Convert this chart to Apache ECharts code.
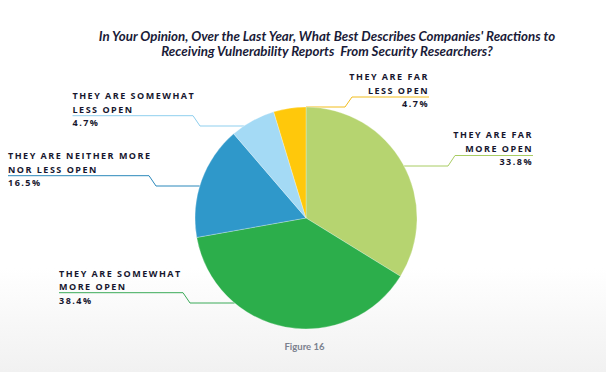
<!DOCTYPE html>
<html>
<head>
<meta charset="utf-8">
<script src="https://cdn.jsdelivr.net/npm/echarts@6/dist/echarts.min.js"></script>
<style>
  html, body { margin: 0; padding: 0; background: #ffffff; }
  #chart { width: 606px; height: 372px; }
  #chart svg text[style*="Open Sans"] { letter-spacing: 1.5px; }
</style>
</head>
<body>
<div id="chart"></div>
<script>
// ---- data ----
const categories = [
  'THEY ARE FAR\nMORE OPEN',
  'THEY ARE SOMEWHAT\nMORE OPEN',
  'THEY ARE NEITHER MORE\nNOR LESS OPEN',
  'THEY ARE SOMEWHAT\nLESS OPEN',
  'THEY ARE FAR\nLESS OPEN'
];
// slice sizes as drawn in the picture
const values = [33.8, 38.4, 16.5, 6.6, 4.7];
// percentage texts as printed on the labels
const percentLabels = ['33.8%', '38.4%', '16.5%', '4.7%', '4.7%'];
const titleLines = [
  "In Your Opinion, Over the Last Year, What Best Describes Companies' Reactions to",
  'Receiving Vulnerability Reports  From Security Researchers?'
];
const figureCaption = 'Figure 16';

// ---- styles / layout ----
const sliceColors = ['#b6d470', '#2cae4b', '#2f98ca', '#a4daf5', '#ffc80b'];
const lineColors  = ['#a8cc62', '#3aaa58', '#2b88bb', '#8fcfee', '#f2bd1c'];
const CX = 306, CY = 218, R = 111;
// label placement: anchor x, top y, alignment, underline y, underline inner end x, start y of leader
const labelPlaces = [
  { x: 533, top: 128,   align: 'right', uy: 155.5, ux: 455, sy: 166 },
  { x: 59,  top: 266.5, align: 'left',  uy: 292.7, ux: 183, sy: 303 },
  { x: 8,   top: 149,   align: 'left',  uy: 175.7, ux: 149, sy: 186 },
  { x: 72.5,top: 89,    align: 'left',  uy: 115.7, ux: 193, sy: 126 },
  { x: 429, top: 70,    align: 'right', uy: 97,    ux: 352, sy: 107 }
];
const DIAG = 7;

function edgeX(y, side) {
  const d = Math.sqrt(Math.max(0, R * R - (y - CY) * (y - CY)));
  return side === 'right' ? CX + d : CX - d;
}

const chart = echarts.init(document.getElementById('chart'), null, { renderer: 'svg' });

const seriesData = categories.map((c, i) => ({
  name: c,
  value: values[i],
  itemStyle: { color: sliceColors[i] },
  labelLine: { lineStyle: { color: lineColors[i] } }
}));

chart.setOption({
  animation: false,
  backgroundColor: '#ffffff',
  title: {
    text: titleLines.join('\n'),
    left: 322,
    top: 23,
    textAlign: 'center',
    textStyle: {
      fontFamily: 'Lato',
      fontStyle: 'italic',
      fontWeight: 'bold',
      fontSize: 13.3,
      lineHeight: 15,
      color: '#1a1b38'
    }
  },
  graphic: [
    {
      type: 'rect',
      z: -10,
      silent: true,
      shape: { x: 0, y: 0, width: 606, height: 372 },
      style: {
        fill: new echarts.graphic.LinearGradient(0, 0, 0, 1, [
          { offset: 0, color: '#ffffff' },
          { offset: 0.72, color: '#ffffff' },
          { offset: 1, color: '#f1f1f1' }
        ])
      }
    },
    {
      type: 'text',
      left: 284.5,
      top: 341,
      style: {
        text: figureCaption,
        font: 'bold 9.5px Lato',
        fill: '#7b818e'
      }
    }
  ],
  series: [{
    type: 'pie',
    center: [CX, CY],
    radius: R,
    startAngle: 90,
    clockwise: true,
    avoidLabelOverlap: false,
    emphasis: { disabled: true },
    itemStyle: { borderColor: 'rgba(255,255,255,0.45)', borderWidth: 0.6 },
    label: {
      show: true,
      position: 'outer',
      alignTo: 'none',
      formatter: function (p) {
        return '{n|' + p.name + '}\n{p|' + percentLabels[p.dataIndex] + '}';
      },
      rich: {
        n: { fontFamily: 'Open Sans', fontWeight: 'bold', fontSize: 9, lineHeight: 13.5, color: '#16162e' },
        p: { fontFamily: 'Open Sans', fontWeight: 'bold', fontSize: 9, lineHeight: 13.5, color: '#16162e' }
      }
    },
    labelLine: { show: true, length: 20, length2: 20, lineStyle: { width: 1 } },
    labelLayout: function (params) {
      const L = labelPlaces[params.dataIndex];
      const side = L.align === 'right' ? 'right' : 'left';
      const dir = side === 'right' ? -1 : 1; // direction from underline end toward the pie
      const pts = [
        [edgeX(L.sy, side), L.sy],
        [L.ux + dir * DIAG, L.sy],
        [L.ux, L.uy],
        [L.x, L.uy]
      ];
      return {
        x: L.x,
        y: L.top,
        align: L.align,
        verticalAlign: 'top',
        labelLinePoints: pts
      };
    },
    data: seriesData
  }]
});
</script>
</body>
</html>
